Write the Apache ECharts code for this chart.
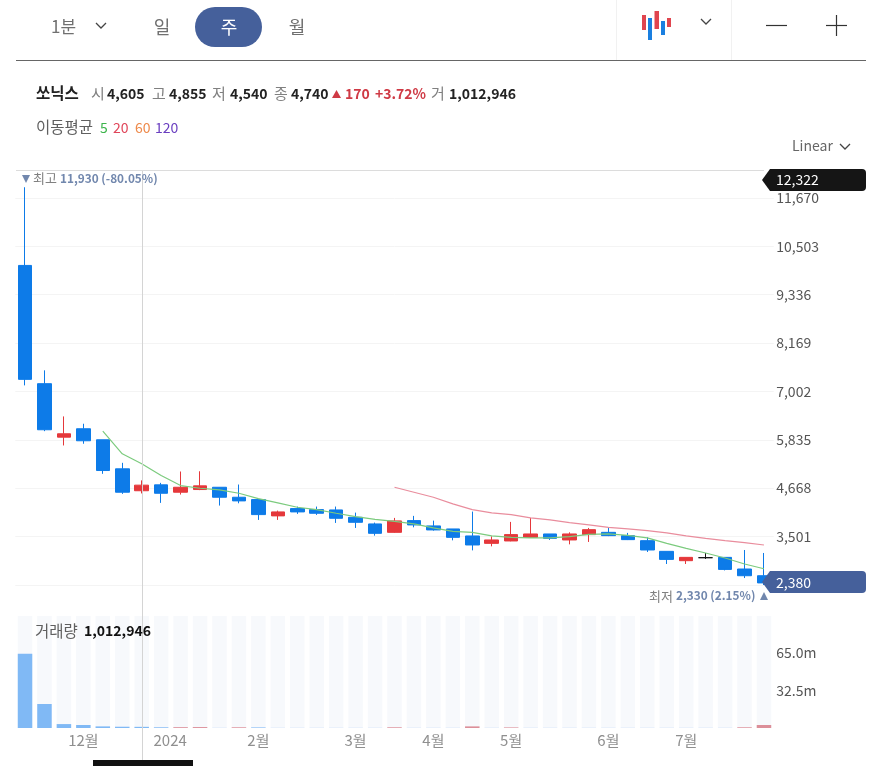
<!DOCTYPE html>
<html>
<head>
<meta charset="utf-8">
<style>html,body{margin:0;padding:0;background:#fff}#main{width:881px;height:766px}</style>
<script src="https://cdn.jsdelivr.net/npm/echarts@6/dist/echarts.min.js"></script>
</head>
<body>
<div id="main"></div>
<script>
const xLabels = ['', '', '', '12월', '', '', '', '2024', '', '', '', '', '2월', '', '', '', '', '3월', '', '', '', '4월', '', '', '', '5월', '', '', '', '', '6월', '', '', '', '7월', '', '', '', ''];
const opens = [10043, 7189, 5898, 6101, 5835, 5134, 4605, 4747, 4569, 4634, 4689, 4448, 4392, 3998, 4174, 4150, 4142, 3964, 3804, 3601, 3884, 3756, 3683, 3514, 3335, 3393, 3480, 3562, 3417, 3546, 3601, 3521, 3400, 3142, 2917, 2989, 2997, 2716, 2554];
const closes = [7293, 6077, 5980, 5811, 5093, 4569, 4740, 4544, 4689, 4723, 4448, 4360, 4029, 4094, 4094, 4061, 3940, 3843, 3577, 3877, 3780, 3659, 3480, 3296, 3417, 3546, 3562, 3456, 3562, 3666, 3521, 3425, 3175, 2948, 2997, 2989, 2706, 2554, 2380];
const lows = [7148, 6043, 5698, 5739, 5013, 4529, 4540, 4312, 4513, 4620, 4247, 4302, 3901, 3901, 4046, 4022, 3828, 3707, 3521, 3590, 3722, 3642, 3408, 3166, 3263, 3385, 3470, 3417, 3311, 3369, 3510, 3415, 3127, 2837, 2837, 2960, 2682, 2498, 2330];
const highs = [11930, 7511, 6399, 6222, 5835, 5279, 4855, 4795, 5069, 5075, 4689, 4755, 4392, 4126, 4223, 4223, 4223, 4077, 3836, 3949, 3998, 3884, 3683, 4102, 3504, 3853, 3949, 3562, 3601, 3707, 3722, 3587, 3480, 3142, 2997, 3103, 2997, 3175, 3103];
const ma5 = [null, null, null, null, 6043, 5497, 5255, 4972, 4730, 4665, 4626, 4544, 4416, 4312, 4206, 4150, 4061, 3981, 3915, 3867, 3804, 3707, 3625, 3601, 3514, 3480, 3466, 3466, 3497, 3553, 3562, 3529, 3466, 3335, 3214, 3103, 2982, 2837, 2723];
const ma20 = [null, null, null, null, null, null, null, null, null, null, null, null, null, null, null, null, null, null, null, 4689, 4569, 4448, 4288, 4150, 4070, 4029, 3949, 3901, 3836, 3780, 3722, 3683, 3642, 3587, 3514, 3456, 3400, 3352, 3296];
const volumes = [64.4, 20.8, 3.4, 2.6, 1.4, 1.1, 1.01, 0.6, 0.7, 0.8, 0.1, 0.6, 0.5, 0.1, 0.1, 0.1, 0.1, 0.1, 0.1, 0.6, 0.1, 0.1, 0.1, 1.4, 0.1, 0.5, 0.1, 0.1, 0.1, 0.1, 0.1, 0.1, 0.1, 0.1, 0.1, 0.1, 0.1, 0.6, 2.6];
const priceTicks = [11670, 10503, 9336, 8169, 7002, 5835, 4668, 3501];
const priceLines = [11670, 10503, 9336, 8169, 7002, 5835, 4668, 3501, 2334];
const volumeTicks = [32.5, 65];

const UP = '#e5383b', DOWN = '#0d7be8';
const FONT = '"Noto Sans CJK KR", "Noto Sans", sans-serif';

const chart = echarts.init(document.getElementById('main'));

chart.setOption({
  animation: false,
  backgroundColor: '#fff',
  textStyle: { fontFamily: FONT },
  grid: [
    { left: 15.3, right: 107.3, top: 171, height: 414 },
    { left: 15.3, right: 107.3, top: 616, height: 112 }
  ],
  xAxis: [
    { type: 'category', data: xLabels, gridIndex: 0, axisLine: { show: false }, axisTick: { show: false }, axisLabel: { show: false }, splitLine: { show: false } },
    {
      type: 'category', data: xLabels, gridIndex: 1,
      axisLine: { show: false }, axisTick: { show: false }, splitLine: { show: false },
      axisLabel: {
        interval: 0, color: '#8f8f8f', fontSize: 15, margin: 5, hideOverlap: false,
        formatter: v => v === '2024' ? '{y|2024}' : v,
        rich: { y: { padding: [0, 0, 0, 18], fontSize: 15, color: '#8f8f8f' } }
      }
    }
  ],
  yAxis: [
    {
      type: 'value', gridIndex: 0, position: 'right', min: 2330, max: 12322, scale: true,
      axisLine: { show: false },
      axisTick: { show: false, customValues: priceLines },
      axisLabel: {
        customValues: priceTicks, color: '#555', fontSize: 14, margin: 2.5, align: 'left',
        formatter: v => v.toLocaleString('en-US')
      },
      splitLine: { show: true, lineStyle: { color: '#f4f4f4', width: 1 } }
    },
    {
      type: 'value', gridIndex: 1, position: 'right', min: 0, max: 97,
      axisLine: { show: false },
      axisTick: { show: false, customValues: volumeTicks },
      axisLabel: {
        customValues: volumeTicks, color: '#555', fontSize: 14, margin: 2.5, align: 'left',
        formatter: v => v.toFixed(1) + 'm'
      },
      splitLine: { show: false }
    }
  ],
  series: [
    {
      type: 'candlestick', xAxisIndex: 0, yAxisIndex: 0, barWidth: 14, z: 2,
      data: opens.map((o, i) => {
        const item = { value: [o, closes[i], lows[i], highs[i]] };
        if (o === closes[i]) item.itemStyle = { color: '#111', color0: '#111', borderColor: '#111', borderColor0: '#111', borderColorDoji: '#111' };
        return item;
      }),
      itemStyle: { color: UP, color0: DOWN, borderColor: UP, borderColor0: DOWN, borderWidth: 1 }
    },
    { type: 'line', xAxisIndex: 0, yAxisIndex: 0, data: ma5, symbol: 'none', z: 3, lineStyle: { color: '#7ccb7e', width: 1.2 } },
    { type: 'line', xAxisIndex: 0, yAxisIndex: 0, data: ma20, symbol: 'none', z: 3, lineStyle: { color: '#e98d9d', width: 1.2 } },
    {
      type: 'bar', xAxisIndex: 1, yAxisIndex: 1, barWidth: 14.5,
      showBackground: true, backgroundStyle: { color: '#f7f9fc' },
      // bar colour follows the change in volume, not the candle
      data: volumes.map((v, i) => ({
        value: v,
        itemStyle: { color: i > 0 && v > volumes[i - 1] ? '#dc8f99' : '#80b9f5' }
      }))
    }
  ]
});

// toolbar, header and badges
function text(x, y, str, fill, size, weight, align) {
  return {
    type: 'text', x, y, z: 10,
    style: { text: str, fill, font: (weight || 'normal') + ' ' + size + 'px ' + FONT, textAlign: align || 'left', textVerticalAlign: 'middle' }
  };
}
function box(x, y, width, height, fill, r) {
  return { type: 'rect', z: 9, shape: { x, y, width, height, r: r || 0 }, style: { fill } };
}
function line(x1, y1, x2, y2, stroke, w) {
  return { type: 'line', z: 9, shape: { x1, y1, x2, y2 }, style: { stroke, lineWidth: w || 1 } };
}
function chevron(x, y) {
  return { type: 'polyline', z: 9, shape: { points: [[x - 5, y - 3], [x, y + 2], [x + 5, y - 3]] }, style: { stroke: '#444', lineWidth: 1.3, fill: null } };
}
function tri(points, fill) {
  return { type: 'polygon', z: 9, shape: { points }, style: { fill } };
}

const crossX = Math.round(chart.convertToPixel({ xAxisIndex: 0 }, 6)) + 0.5;
const lastY = chart.convertToPixel({ yAxisIndex: 0 }, closes[closes.length - 1]) - 1;

const GREY = '#808080', DARK = '#222', RED = '#cf3a45', SLATE = '#7187ad', NAVY = '#45609b';

chart.setOption({
  graphic: [
    // toolbar
    text(51, 27, '1분', '#707070', 17),
    chevron(101, 26),
    text(162, 27, '일', '#707070', 18, 'normal', 'center'),
    box(195, 7, 67, 40, NAVY, 20),
    text(229, 27, '주', '#fff', 18, 'normal', 'center'),
    text(297, 27, '월', '#707070', 18, 'normal', 'center'),
    line(616.5, 0, 616.5, 60, '#f1f1f1'),
    line(731.5, 0, 731.5, 60, '#f1f1f1'),
    box(642, 15, 4, 15, '#e0454f'),
    box(648, 18, 4, 22, '#1a7fe0'),
    box(654.5, 11, 4.5, 18, '#e0454f'),
    box(661, 21, 4, 14, '#1a7fe0'),
    box(667, 18, 4, 9, '#e0454f'),
    chevron(706, 22),
    line(766, 25.5, 787, 25.5, '#333', 1.2),
    line(826, 25.5, 847, 25.5, '#333', 1.2),
    line(836.5, 15, 836.5, 36, '#333', 1.2),
    line(16, 60.5, 866, 60.5, '#666', 1),
    // header
    text(36, 93.5, '쏘닉스', DARK, 15.5, 'bold'),
    text(91, 93.5, '시', GREY, 15),
    text(107, 93.5, '4,605', DARK, 14, 'bold'),
    text(152, 93.5, '고', GREY, 15),
    text(169, 93.5, '4,855', DARK, 14, 'bold'),
    text(212, 93.5, '저', GREY, 15),
    text(230, 93.5, '4,540', DARK, 14, 'bold'),
    text(274, 93.5, '종', GREY, 15),
    text(291, 93.5, '4,740', DARK, 14, 'bold'),
    tri([[332, 98], [341, 98], [336.5, 90]], RED),
    text(345, 93.5, '170', RED, 14, 'bold'),
    text(375, 93.5, '+3.72%', RED, 14, 'bold'),
    text(431, 93.5, '거', GREY, 15),
    text(449, 93.5, '1,012,946', DARK, 14, 'bold'),
    text(36, 127.5, '이동평균', '#606060', 15.5),
    text(100, 127.5, '5', '#3cb44b', 14),
    text(113, 127.5, '20', '#e0465a', 14),
    text(135, 127.5, '60', '#ee8a4b', 14),
    text(155, 127.5, '120', '#6a3fc0', 14),
    text(792, 146, 'Linear', '#666', 14),
    chevron(845, 147),
    // plot frame and crosshair
    line(16, 170.5, 764, 170.5, '#dcdcdc'),
    line(crossX, 171, crossX, 760, '#d4d4d4'),
    box(93, 760, 100, 6, '#111'),
    // extremes
    tri([[22, 175], [30, 175], [26, 183]], SLATE),
    text(33, 178.5, '최고', GREY, 13),
    text(60, 178.5, '11,930 (-80.05%)', SLATE, 11.8, 'bold'),
    text(649, 596, '최저', GREY, 13),
    text(676, 596, '2,330 (2.15%)', SLATE, 11.8, 'bold'),
    tri([[760, 600], [768, 600], [764, 592]], SLATE),
    // price badges
    tri([[762, 180], [770, 169], [770, 191]], '#151515'),
    box(770, 169, 96, 22, '#151515', [0, 4, 4, 0]),
    text(776, 180, '12,322', '#fff', 14),
    tri([[762, lastY], [770, lastY - 11], [770, lastY + 11]], NAVY),
    box(770, lastY - 11, 96, 22, NAVY, [0, 4, 4, 0]),
    text(776, lastY + 0.5, '2,380', '#fff', 14),
    // volume caption
    text(35, 631, '거래량', '#606060', 15.5),
    text(84, 631, '1,012,946', '#111', 14, 'bold')
  ]
});
</script>
</body>
</html>
